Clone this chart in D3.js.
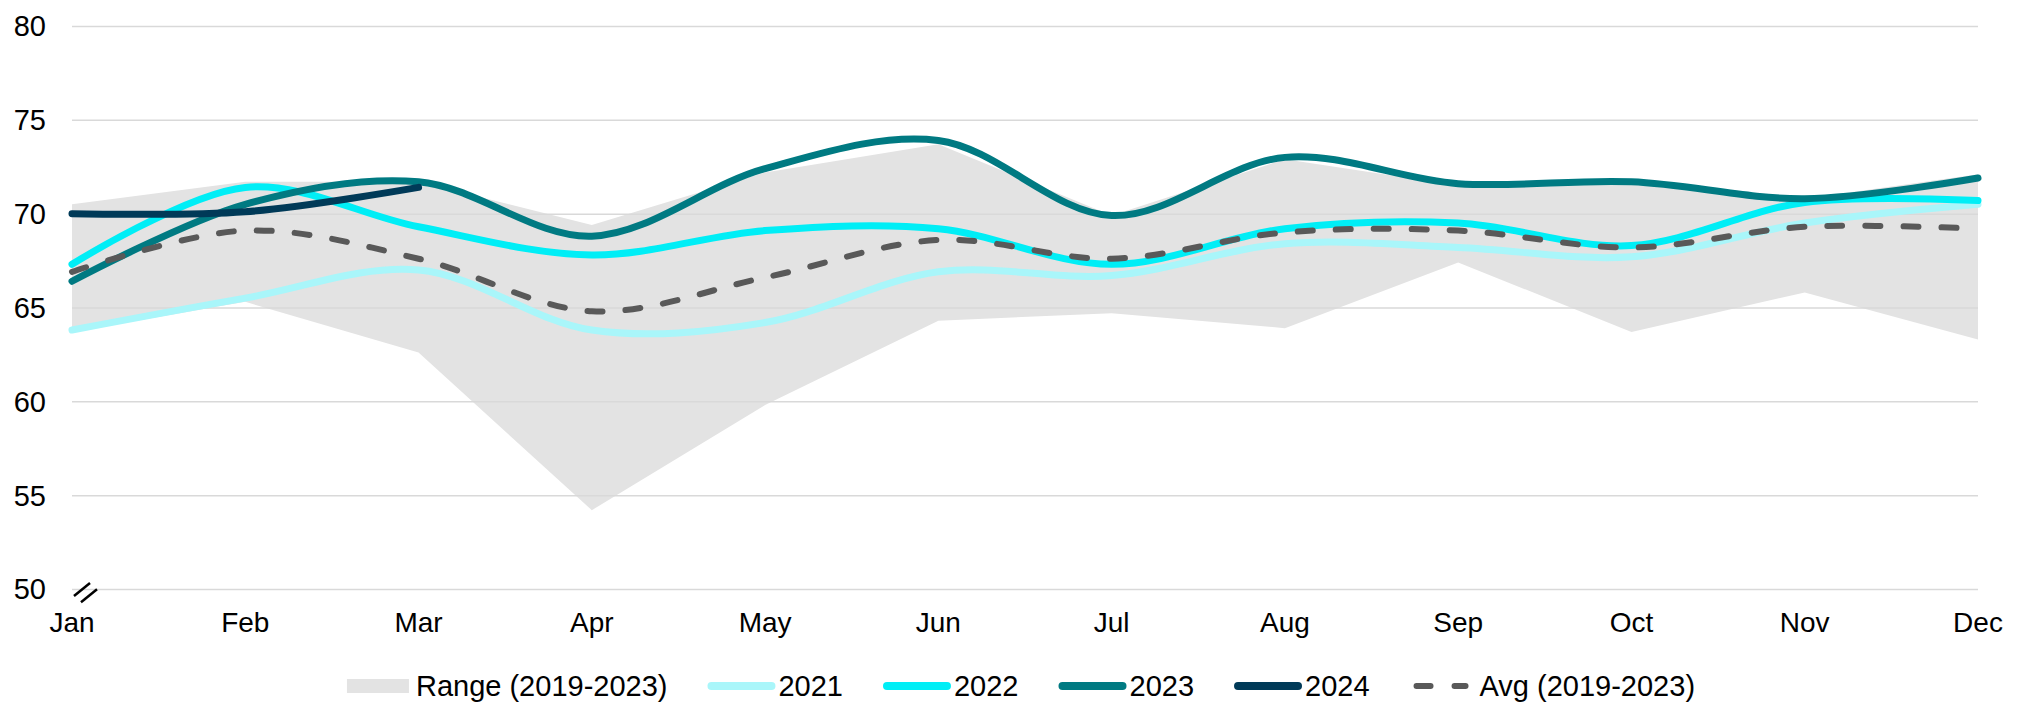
<!DOCTYPE html>
<html>
<head>
<meta charset="utf-8">
<script src="https://cdn.jsdelivr.net/npm/d3@7"></script>
<style>
  body { margin: 0; background: #fff; }
  text { font-family: "Liberation Sans", Arial, Helvetica, sans-serif; fill: #000; }
</style>
</head>
<body>
<div id="chart"></div>
<script>
var svgWidth = 2023;
var svgHeight = 704;

// months and tick labels
var months = ["Jan", "Feb", "Mar", "Apr", "May", "Jun", "Jul", "Aug", "Sep", "Oct", "Nov", "Dec"];
var yTicks = [50, 55, 60, 65, 70, 75, 80];

// range (2019-2023), low and high
var rangeLow  = [63.7, 65.3, 62.6, 54.2, 59.8, 64.3, 64.7, 63.9, 67.4, 63.7, 65.8, 63.3];
var rangeHigh = [70.5, 71.7, 71.7, 69.4, 72.2, 73.7, 69.9, 72.9, 71.5, 71.7, 70.8, 72.1];

// yearly series
var s2021 = [63.8, 65.5, 67.0, 63.8, 64.2, 66.9, 66.7, 68.4, 68.2, 67.7, 69.5, 70.5];
var s2022 = [67.3, 71.4, 69.3, 67.8, 69.1, 69.2, 67.3, 69.2, 69.5, 68.3, 70.6, 70.7];
var s2023 = [66.4, 70.5, 71.7, 68.8, 72.4, 73.9, 69.9, 73.0, 71.6, 71.7, 70.8, 71.9];
var s2024 = [70.0, 70.1, 71.4];
var avg   = [66.9, 69.1, 67.6, 64.8, 66.6, 68.6, 67.6, 69.0, 69.1, 68.2, 69.3, 69.2];

var svg = d3.select("#chart")
  .append("svg")
  .attr("width", svgWidth)
  .attr("height", svgHeight);

var xScale = d3.scalePoint()
  .domain(months)
  .range([72, 1978]);

var yScale = d3.scaleLinear()
  .domain([50, 80])
  .range([589, 26]);

// range area
var rangeData = months.map(function(m, i) { return { m: m, lo: rangeLow[i], hi: rangeHigh[i] }; });
var area = d3.area()
  .x(d => xScale(d.m))
  .y0(d => yScale(d.lo))
  .y1(d => yScale(d.hi));

svg.append("path")
  .datum(rangeData)
  .attr("d", area)
  .attr("fill", "#e3e3e3");

// gridlines
var gridAxis = d3.axisLeft(yScale)
  .tickValues(yTicks)
  .tickSize(-(1978 - 72))
  .tickFormat("");

var grid = svg.append("g")
  .attr("transform", "translate(72,0)")
  .call(gridAxis);
grid.select(".domain").remove();
grid.selectAll("line").attr("stroke", "#d9d9d9").attr("stroke-width", 1.5);

// y labels
svg.append("g")
  .selectAll("text")
  .data(yTicks)
  .enter()
  .append("text")
  .attr("x", 46)
  .attr("y", d => yScale(d))
  .attr("dy", "0.36em")
  .attr("text-anchor", "end")
  .attr("font-size", 29)
  .text(d => d);

// x labels
svg.append("g")
  .selectAll("text")
  .data(months)
  .enter()
  .append("text")
  .attr("x", d => xScale(d))
  .attr("y", 632)
  .attr("text-anchor", "middle")
  .attr("font-size", 28)
  .text(d => d);

// axis break mark
svg.append("g")
  .selectAll("line")
  .data([0, 7])
  .enter()
  .append("line")
  .attr("x1", d => 74 + d)
  .attr("y1", d => 596 + d * 0.9)
  .attr("x2", d => 90 + d)
  .attr("y2", d => 583 + d * 0.9)
  .attr("stroke", "#000")
  .attr("stroke-width", 2.5);

// lines
var line = d3.line()
  .x(d => xScale(d.m))
  .y(d => yScale(d.v))
  .curve(d3.curveCatmullRom.alpha(0.5));

function toPoints(arr) {
  return arr.map(function(v, i) { return { m: months[i], v: v }; });
}

var series = [
  { name: "2021", values: s2021, color: "#a9f6fa", dash: null },
  { name: "2022", values: s2022, color: "#00eef6", dash: null },
  { name: "2023", values: s2023, color: "#007a82", dash: null },
  { name: "2024", values: s2024, color: "#003a58", dash: null },
  { name: "Avg (2019-2023)", values: avg, color: "#595959", dash: "15,23" }
];

series.forEach(function(s) {
  svg.append("path")
    .datum(toPoints(s.values))
    .attr("d", line)
    .attr("fill", "none")
    .attr("stroke", s.color)
    .attr("stroke-width", s.dash ? 6 : 7)
    .attr("stroke-linecap", "round")
    .attr("stroke-dasharray", s.dash);
});

// legend
var legendItems = [{ name: "Range (2019-2023)", type: "rect", color: "#e3e3e3", w: 62, gap: 7 }]
  .concat(series.map(function(s) {
    return { name: s.name, type: s.dash ? "dash" : "line", color: s.color, w: s.dash ? 60 : 68, gap: s.dash ? 10 : 3 };
  }));

var legend = svg.append("g");
var lx = 0;
var legendY = 686;
legendItems.forEach(function(it) {
  var g = legend.append("g").attr("transform", "translate(" + lx + ",0)");
  if (it.type === "rect") {
    g.append("rect").attr("x", 0).attr("y", legendY - 7).attr("width", it.w).attr("height", 14).attr("fill", it.color);
  } else {
    g.append("line")
      .attr("x1", 4).attr("x2", it.w - 4)
      .attr("y1", legendY).attr("y2", legendY)
      .attr("stroke", it.color)
      .attr("stroke-width", it.type === "dash" ? 6 : 8)
      .attr("stroke-linecap", "round")
      .attr("stroke-dasharray", it.type === "dash" ? "14,24" : null)
      .attr("stroke-dashoffset", it.type === "dash" ? -3 : null);
  }
  var t = g.append("text")
    .attr("x", it.w + it.gap)
    .attr("y", legendY)
    .attr("dy", "0.36em")
    .attr("font-size", 29)
    .text(it.name);
  lx += it.w + it.gap + t.node().getComputedTextLength() + 40;
});
lx -= 40;
legend.attr("transform", "translate(" + (1021 - lx / 2) + ",0)");
</script>
</body>
</html>
